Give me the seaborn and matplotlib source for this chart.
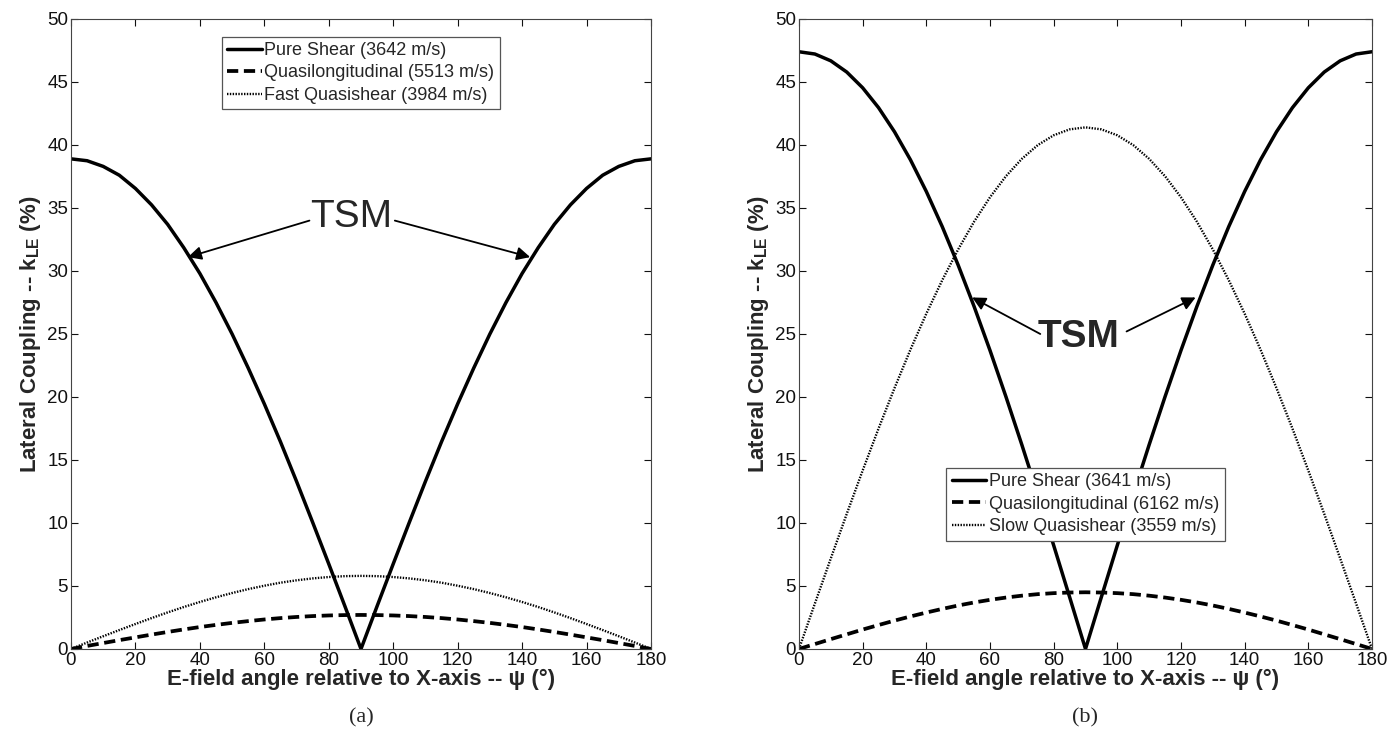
import numpy as np
import pandas as pd
import matplotlib
matplotlib.use("Agg")
import matplotlib.pyplot as plt
import seaborn as sns

# angle grid (degrees)
psi = [0, 5, 10, 15, 20, 25, 30, 35, 40, 45, 50, 55, 60, 65, 70, 75, 80, 85, 90,
       95, 100, 105, 110, 115, 120, 125, 130, 135, 140, 145, 150, 155, 160, 165, 170, 175, 180]

# (a) values
a_pure = [38.9, 38.75, 38.3, 37.6, 36.55, 35.25, 33.7, 31.85, 29.8, 27.5, 25.0, 22.3, 19.45,
          16.45, 13.3, 10.05, 6.75, 3.4, 0.0, 3.4, 6.75, 10.05, 13.3, 16.45, 19.45, 22.3, 25.0,
          27.5, 29.8, 31.85, 33.7, 35.25, 36.55, 37.6, 38.3, 38.75, 38.9]
a_qlong = [0.0, 0.24, 0.47, 0.70, 0.92, 1.14, 1.35, 1.55, 1.74, 1.91, 2.07, 2.21, 2.34, 2.45,
           2.54, 2.61, 2.66, 2.69, 2.70, 2.69, 2.66, 2.61, 2.54, 2.45, 2.34, 2.21, 2.07, 1.91,
           1.74, 1.55, 1.35, 1.14, 0.92, 0.70, 0.47, 0.24, 0.0]
a_qshear = [0.0, 0.51, 1.01, 1.50, 1.98, 2.45, 2.90, 3.33, 3.73, 4.10, 4.44, 4.75, 5.02, 5.26,
            5.45, 5.60, 5.71, 5.78, 5.80, 5.78, 5.71, 5.60, 5.45, 5.26, 5.02, 4.75, 4.44, 4.10,
            3.73, 3.33, 2.90, 2.45, 1.98, 1.50, 1.01, 0.51, 0.0]

# (b) values
b_pure = [47.4, 47.22, 46.68, 45.79, 44.54, 42.96, 41.05, 38.83, 36.31, 33.52, 30.47, 27.19,
          23.7, 20.03, 16.21, 12.27, 8.23, 4.13, 0.0, 4.13, 8.23, 12.27, 16.21, 20.03, 23.7,
          27.19, 30.47, 33.52, 36.31, 38.83, 41.05, 42.96, 44.54, 45.79, 46.68, 47.22, 47.4]
b_qlong = [0.0, 0.39, 0.78, 1.16, 1.54, 1.90, 2.25, 2.58, 2.89, 3.18, 3.45, 3.69, 3.90, 4.08,
           4.23, 4.35, 4.43, 4.48, 4.50, 4.48, 4.43, 4.35, 4.23, 4.08, 3.90, 3.69, 3.45, 3.18,
           2.89, 2.58, 2.25, 1.90, 1.54, 1.16, 0.78, 0.39, 0.0]
b_qshear = [0.0, 3.61, 7.19, 10.72, 14.16, 17.50, 20.70, 23.75, 26.61, 29.27, 31.71, 33.91,
            35.85, 37.52, 38.90, 39.99, 40.77, 41.24, 41.40, 41.24, 40.77, 39.99, 38.90, 37.52,
            35.85, 33.91, 31.71, 29.27, 26.61, 23.75, 20.70, 17.50, 14.16, 10.72, 7.19, 3.61, 0.0]

labels_a = ['Pure Shear (3642 m/s)', 'Quasilongitudinal (5513 m/s)', 'Fast Quasishear (3984 m/s)']
labels_b = ['Pure Shear (3641 m/s)', 'Quasilongitudinal (6162 m/s)', 'Slow Quasishear (3559 m/s)']

sns.set_style("ticks")
plt.rcParams['font.family'] = ['Liberation Sans', 'DejaVu Sans']
plt.rcParams['mathtext.fontset'] = 'custom'
plt.rcParams['mathtext.rm'] = 'Liberation Sans'
plt.rcParams['mathtext.bf'] = 'Liberation Sans:bold'

fig = plt.figure(figsize=(14, 7.48), dpi=100)
ax1 = fig.add_axes([0.0507, 0.1324, 0.4143, 0.8422])
ax2 = fig.add_axes([0.5707, 0.1324, 0.4093, 0.8422])

styles = [dict(linestyle='-', linewidth=2.5),
          dict(linestyle=(0, (3, 1.5)), linewidth=2.7),
          dict(linestyle=(0, (0.6, 0.6)), linewidth=1.7)]


def draw_panel(ax, series, labels, legend_loc, legend_anchor, caption, tsm_xy, arrows, bold):
    for y, lab, st in zip(series, labels, styles):
        sns.lineplot(x=psi, y=y, ax=ax, color='black', label=lab, **st)
    ax.set_xlim(0, 180)
    ax.set_ylim(0, 50)
    ax.set_xticks(range(0, 181, 20))
    ax.set_yticks(range(0, 51, 5))
    ax.tick_params(direction='in', length=5, width=0.8, labelsize=13.5, top=True, right=True,
                   pad=2, colors='#111111')
    for s in ax.spines.values():
        s.set_linewidth(0.8)
        s.set_color('#444444')
    ax.set_xlabel('E-field angle relative to X-axis -- ψ (°)', fontsize=16,
                  fontweight='bold', labelpad=0)
    ax.set_ylabel(r'Lateral Coupling -- k$_{\mathbf{LE}}$ (%)', fontsize=16,
                  fontweight='bold', labelpad=3)
    leg = ax.legend(loc=legend_loc, bbox_to_anchor=legend_anchor, fontsize=13, frameon=True,
                    fancybox=False, edgecolor='#555555', framealpha=1, handlelength=1.9,
                    handletextpad=0.15, borderpad=0.3, labelspacing=0.3, borderaxespad=0)
    leg.get_frame().set_linewidth(0.9)
    ax.text(tsm_xy[0], tsm_xy[1], 'TSM', fontsize=28, ha='center', va='center',
            fontweight='bold' if bold else 'normal')
    for tail, tip in arrows:
        ax.annotate('', xy=tip, xytext=tail,
                    arrowprops=dict(arrowstyle='-|>', color='black', lw=1.3,
                                    mutation_scale=20, shrinkA=0, shrinkB=0))
    ax.text(0.5, -0.11, caption, transform=ax.transAxes, ha='center', va='center',
            fontsize=16, family='Liberation Serif')


draw_panel(ax1, [a_pure, a_qlong, a_qshear], labels_a, 'upper center', (0.5, 0.972), '(a)',
           (86.9, 34.3), [((74.0, 34.0), (36.3, 31.1)), ((100.5, 34.0), (142.5, 31.1))], False)
draw_panel(ax2, [b_pure, b_qlong, b_qshear], labels_b, 'lower center', (0.5, 0.172), '(b)',
           (87.8, 24.8), [((75.8, 25.0), (54.4, 27.9)), ((102.9, 25.2), (124.6, 27.9))], True)

fig.savefig('out.png', dpi=100)
